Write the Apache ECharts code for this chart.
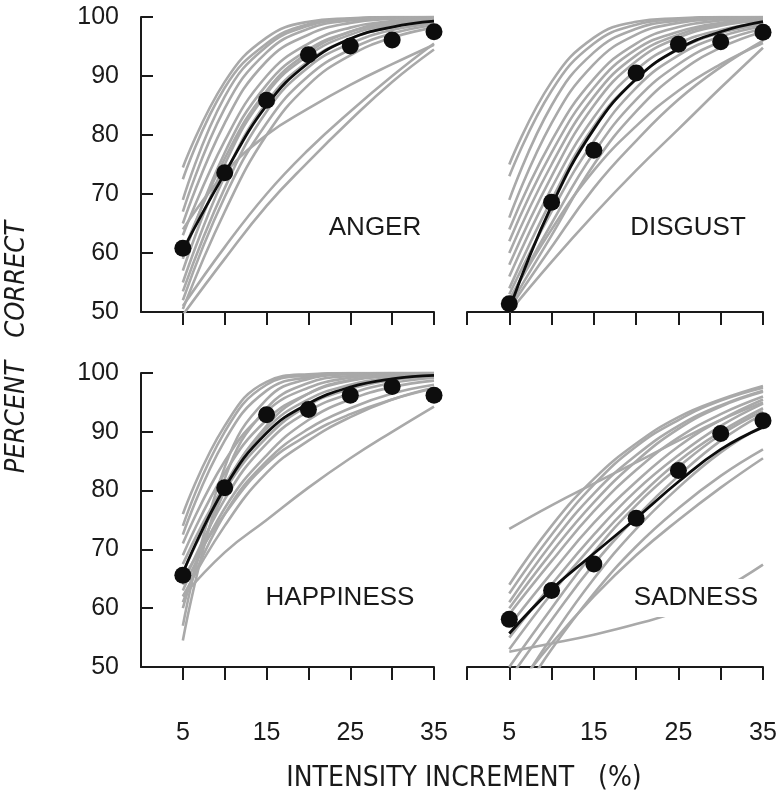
<!DOCTYPE html>
<html>
<head>
<meta charset="utf-8">
<script src="https://cdn.jsdelivr.net/npm/echarts@6/dist/echarts.min.js"></script>
<style>
html,body{margin:0;padding:0;background:#fff;}
#chart{width:784px;height:803px;}
</style>
</head>
<body>
<div id="chart"></div>
<script>
// ---------- data ----------
const xValues = [5, 10, 15, 20, 25, 30, 35];
const yTicks = [50, 60, 70, 80, 90, 100];
const xTickLabels = [5, 15, 25, 35];
const panelNames = ['ANGER', 'DISGUST', 'HAPPINESS', 'SADNESS'];
const xTitle = 'INTENSITY INCREMENT   (%)';
const yTitle = 'PERCENT   CORRECT';

// ANGER
const angerDots = [60.8, 73.6, 85.9, 93.6, 95.1, 96.1, 97.5];
const angerFit = [60.5, 73.5, 85.0, 92.2, 96.3, 98.3, 99.3];
const angerCurves = [
  [74.5, 89.0, 96.5, 99.2, 99.8, 100, 100],
  [72.5, 88.0, 95.5, 98.8, 99.7, 100, 100],
  [69.0, 86.5, 95.0, 98.5, 99.6, 99.9, 100],
  [67.0, 84.5, 94.0, 98.0, 99.4, 99.8, 100],
  [65.0, 82.0, 92.5, 97.0, 99.0, 99.7, 99.9],
  [63.0, 79.0, 90.0, 95.5, 98.2, 99.3, 99.8],
  [59.0, 77.0, 88.5, 94.5, 97.5, 99.0, 99.6],
  [57.0, 75.0, 87.0, 93.5, 97.0, 98.7, 99.4],
  [55.0, 73.0, 85.5, 92.5, 96.3, 98.3, 99.2],
  [53.5, 71.0, 84.0, 91.5, 95.5, 97.8, 98.9],
  [52.0, 69.5, 82.0, 90.0, 94.5, 97.2, 98.6],
  [50.5, 67.0, 80.0, 88.5, 93.5, 96.5, 98.2],
  [64.0, 73.5, 80.0, 84.5, 88.5, 92.0, 95.3],
  [51.0, 61.0, 70.0, 77.5, 84.0, 90.0, 95.5],
  [49.5, 59.0, 68.0, 75.5, 82.5, 89.0, 94.5],
  [60.0, 76.0, 87.5, 94.0, 97.5, 99.2, 99.8]
];

// DISGUST
const disgustDots = [51.4, 68.6, 77.4, 90.5, 95.4, 95.8, 97.4];
const disgustFit = [50.5, 68.0, 81.0, 89.5, 94.6, 97.5, 99.2];
const disgustCurves = [
  [75.0, 89.0, 96.5, 99.2, 99.8, 100, 100],
  [73.0, 87.5, 95.5, 98.7, 99.6, 100, 100],
  [69.0, 85.0, 94.0, 98.0, 99.4, 99.9, 100],
  [66.0, 82.0, 92.0, 97.0, 99.0, 99.7, 99.9],
  [64.0, 79.0, 89.5, 95.5, 98.3, 99.4, 99.8],
  [62.0, 77.0, 88.0, 94.5, 97.5, 99.0, 99.6],
  [60.0, 75.0, 86.5, 93.5, 97.0, 98.8, 99.5],
  [58.0, 73.0, 85.0, 92.5, 96.5, 98.5, 99.4],
  [56.0, 71.0, 83.0, 91.0, 95.5, 97.8, 99.0],
  [54.0, 69.0, 81.5, 89.5, 94.5, 97.3, 98.7],
  [53.0, 67.0, 79.0, 88.0, 93.5, 96.7, 98.4],
  [52.0, 65.0, 77.0, 86.0, 92.0, 95.8, 98.0],
  [51.0, 63.0, 75.0, 84.0, 90.5, 94.8, 97.5],
  [52.0, 64.0, 74.0, 81.5, 87.5, 92.0, 95.6],
  [50.0, 58.5, 66.5, 74.0, 81.0, 88.0, 94.8],
  [50.5, 61.0, 71.0, 79.0, 86.0, 91.5, 96.0]
];

// HAPPINESS
const happinessDots = [65.6, 80.5, 92.9, 93.8, 96.2, 97.7, 96.2];
const happinessFit = [66.0, 80.5, 89.8, 94.8, 97.6, 99.0, 99.6];
const happinessCurves = [
  [76.0, 91.0, 98.5, 99.8, 100, 100, 100],
  [74.0, 90.0, 98.0, 99.6, 100, 100, 100],
  [72.5, 88.5, 97.0, 99.3, 99.9, 100, 100],
  [57.0, 84.0, 95.5, 99.0, 99.8, 100, 100],
  [54.5, 82.0, 94.0, 98.3, 99.5, 99.9, 100],
  [71.0, 85.0, 93.5, 97.5, 99.2, 99.8, 100],
  [69.0, 83.0, 92.0, 96.5, 98.7, 99.5, 99.8],
  [67.5, 81.0, 90.5, 95.5, 98.0, 99.2, 99.7],
  [66.0, 80.0, 89.0, 94.5, 97.3, 98.8, 99.5],
  [64.0, 78.5, 88.0, 93.5, 96.5, 98.3, 99.2],
  [63.0, 77.0, 86.0, 92.0, 95.5, 97.6, 98.7],
  [61.0, 76.0, 85.0, 90.5, 94.0, 96.5, 98.0],
  [62.0, 74.0, 83.0, 88.5, 92.5, 95.5, 97.5],
  [62.0, 69.5, 75.0, 80.5, 85.5, 90.0, 94.3],
  [60.0, 80.0, 91.0, 96.5, 98.8, 99.6, 99.9],
  [65.0, 76.0, 84.5, 89.5, 93.0, 95.5, 97.4]
];

// SADNESS
const sadnessDots = [58.1, 63.0, 67.5, 75.3, 83.4, 89.7, 91.9];
const sadnessFit = [55.7, 63.2, 69.3, 75.3, 81.5, 87.0, 90.8];
const sadnessCurves = [
  [64.0, 74.0, 82.0, 88.0, 92.5, 95.5, 97.8],
  [62.5, 72.5, 81.0, 87.5, 92.0, 95.3, 97.5],
  [73.5, 77.5, 81.2, 84.8, 88.5, 92.0, 95.0],
  [61.0, 71.0, 79.5, 86.0, 91.0, 94.5, 97.0],
  [60.0, 69.5, 78.0, 85.0, 90.5, 94.3, 96.8],
  [59.0, 68.0, 76.5, 83.5, 89.0, 93.0, 96.0],
  [57.0, 66.0, 74.5, 81.5, 87.5, 92.0, 95.5],
  [55.0, 64.0, 72.5, 80.0, 86.0, 91.0, 94.8],
  [53.0, 62.5, 71.0, 78.5, 85.0, 90.0, 94.0],
  [44.0, 55.0, 65.0, 73.5, 80.5, 86.5, 91.0],
  [42.0, 53.0, 62.5, 70.5, 77.0, 82.5, 87.0],
  [45.0, 54.0, 62.0, 69.0, 75.0, 80.5, 85.5],
  [52.6, 54.0, 55.5, 57.3, 59.5, 63.0, 67.4],
  [50.0, 60.0, 69.5, 77.5, 84.0, 89.5, 93.5],
  [48.0, 58.0, 67.5, 75.5, 82.5, 88.5, 93.0]
];

const panelCurves = [angerCurves, disgustCurves, happinessCurves, sadnessCurves];
const panelFits = [angerFit, disgustFit, happinessFit, sadnessFit];
const panelDots = [angerDots, disgustDots, happinessDots, sadnessDots];

// ---------- layout ----------
const grids = [
  {left: 141, top: 17, width: 293, height: 295},
  {left: 467, top: 17, width: 296, height: 295},
  {left: 141, top: 373, width: 293, height: 294},
  {left: 467, top: 373, width: 296, height: 294}
];
const labelPos = [[375, 228], [688, 228], [340, 598], [696, 598]];

const ink = '#1a1a1a';
const gray = '#a9a9a9';
const tickFont = "'Liberation Sans', Arial, sans-serif";
const narrowFont = "'Liberation Sans Narrow', 'Arial Narrow', 'DejaVu Sans Condensed', sans-serif";

const xAxes = [], yAxes = [], series = [];
grids.forEach((g, i) => {
  const isLeft = (i % 2 === 0);
  const isBottom = (i >= 2);
  xAxes.push({
    gridIndex: i, type: 'value', min: 0, max: 35, interval: 5,
    axisLine: {show: true, onZero: false, lineStyle: {color: ink, width: 2}},
    axisTick: {show: true, length: 13, lineStyle: {color: ink, width: 2},
      customValues: isLeft ? [5, 10, 15, 20, 25, 30, 35] : [0, 5, 10, 15, 20, 25, 30, 35]},
    axisLabel: {show: isBottom, customValues: xTickLabels, margin: 54,
      fontSize: 25, color: ink, fontFamily: tickFont},
    splitLine: {show: false}
  });
  yAxes.push({
    gridIndex: i, type: 'value', min: 50, max: 100, interval: 10,
    show: isLeft,
    axisLine: {show: true, onZero: false, lineStyle: {color: ink, width: 2}},
    axisTick: {show: true, inside: true, length: 12, lineStyle: {color: ink, width: 2}},
    axisLabel: {show: true, margin: 22, fontSize: 25, color: ink, fontFamily: tickFont,
      customValues: yTicks},
    splitLine: {show: false}
  });
  panelCurves[i].forEach(c => {
    series.push({
      type: 'line', xAxisIndex: i, yAxisIndex: i,
      data: xValues.map((x, j) => [x, c[j]]),
      smooth: 0.45, showSymbol: false, symbol: 'none', clip: true,
      lineStyle: {color: gray, width: 2.6}, z: 2, silent: true
    });
  });
  series.push({
    type: 'line', xAxisIndex: i, yAxisIndex: i,
    data: xValues.map((x, j) => [x, panelFits[i][j]]),
    smooth: 0.45, showSymbol: false, symbol: 'none', clip: true,
    lineStyle: {color: '#0d0d0d', width: 2.8}, z: 3, silent: true
  });
  series.push({
    type: 'scatter', xAxisIndex: i, yAxisIndex: i,
    data: xValues.map((x, j) => [x, panelDots[i][j]]),
    symbolSize: 17, itemStyle: {color: '#0d0d0d', opacity: 1}, z: 4, clip: false, silent: true
  });
});

const graphics = panelNames.map((name, i) => ({
  type: 'text', x: labelPos[i][0], y: labelPos[i][1], z: 100,
  style: {text: name, fill: ink, font: "26px 'Liberation Sans', Arial, sans-serif",
    align: 'center', verticalAlign: 'middle',
    backgroundColor: i === 3 ? '#fff' : 'transparent', padding: [6, 4, 6, 4]}
}));
graphics.push({
  type: 'text', x: 464, y: 779, z: 100,
  style: {text: xTitle, fill: ink, font: "28px " + narrowFont, align: 'center', verticalAlign: 'middle'}
});
graphics.push({
  type: 'text', x: 17, y: 347, rotation: Math.PI / 2, z: 100,
  style: {text: yTitle, fill: ink, font: "italic 27px " + narrowFont, align: 'center', verticalAlign: 'middle'}
});

const chart = echarts.init(document.getElementById('chart'), null, {renderer: 'canvas'});
chart.setOption({
  animation: false,
  backgroundColor: '#fff',
  grid: grids,
  xAxis: xAxes,
  yAxis: yAxes,
  series: series,
  graphic: graphics
});
</script>
</body>
</html>
